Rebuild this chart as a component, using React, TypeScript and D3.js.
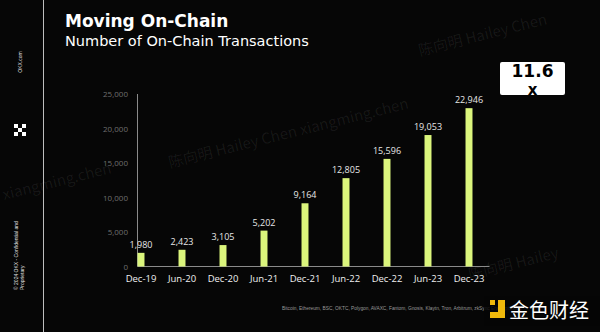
import React from "react";
import * as d3 from "d3";

const categories = ["Dec-19", "Jun-20", "Dec-20", "Jun-21", "Dec-21", "Jun-22", "Dec-22", "Jun-23", "Dec-23"];
const transactions = [1980, 2423, 3105, 5202, 9164, 12805, 15596, 19053, 22946];
const yTicks = [0, 5000, 10000, 15000, 20000, 25000];
const title = "Moving On-Chain";
const subtitle = "Number of On-Chain Transactions";
const multiple = "11.6";
const sourceNote = "Bitcoin, Ethereum, BSC, OKTC, Polygon, AVAXC, Fantom, Gnosis, Klaytn, Tron, Arbitrum, zkSync Era, Optimism";
const watermarks = [
  { text: "陈向明 Hailey  Chen", x: 420, y: 56 },
  { text: "陈向明 Hailey  Chen xiangming.chen", x: 170, y: 168 },
  { text: "xiangming.chen", x: 4, y: 200 },
  { text: "陈向明 Hailey", x: 470, y: 280 },
];

const W = 600;
const H = 332;
const BAR = "#dbf57c";

export default function App() {
  const x = d3.scalePoint<string>().domain(categories).range([120.5, 489.5]).padding(0.5);
  const y = d3.scaleLinear().domain([0, 25000]).range([266.5, 94]);
  const bw = x.step() * 0.17;
  const fmt = d3.format(",");
  const axisX = (x(categories[0]) as number) - bw / 2;
  const axisEnd = 489.5;

  return (
    <svg width={W} height={H} style={{ position: "absolute", left: 0, top: 0, display: "block" }}>
      <rect x={0} y={0} width={W} height={H} fill="#060606" />
      {/* watermarks */}
      {watermarks.map((w, i) => (
        <text key={i} x={w.x} y={w.y} transform={`rotate(-14 ${w.x} ${w.y})`} fontFamily="'Noto Sans CJK SC', 'DejaVu Sans', sans-serif" fontSize={15} fill="#ffffff" fillOpacity={0.07}>
          {w.text}
        </text>
      ))}
      {/* left sidebar */}
      <line x1={43.5} y1={0} x2={43.5} y2={H} stroke="#bdbdbd" strokeWidth={1} />
      <text transform="translate(22,62) rotate(-90)" textAnchor="middle" fontFamily="'Liberation Sans', Arial, sans-serif" fontSize={5} fill="#e0e0e0">OKX.com</text>
      <g fill="#ffffff">
        <rect x={14} y={124} width={4} height={4} />
        <rect x={22} y={124} width={4} height={4} />
        <rect x={18} y={128} width={4} height={4} />
        <rect x={14} y={132} width={4} height={4} />
        <rect x={22} y={132} width={4} height={4} />
      </g>
      <text transform="translate(18,290) rotate(-90)" fontFamily="'Liberation Sans', Arial, sans-serif" fontSize={5} fill="#e0e0e0">© 2024 OKX - Confidential and</text>
      <text transform="translate(24,290) rotate(-90)" fontFamily="'Liberation Sans', Arial, sans-serif" fontSize={5} fill="#e0e0e0">Proprietary</text>

      {/* titles */}
      <text x={65} y={27} fontFamily="'DejaVu Sans', sans-serif" fontWeight="bold" fontSize={17} fill="#ffffff">{title}</text>
      <text x={65} y={45.5} fontFamily="'DejaVu Sans', sans-serif" fontSize={14.5} fill="#ffffff">{subtitle}</text>

      {/* multiple box */}
      <rect x={500} y={62} width={65} height={33} rx={2} fill="#ffffff" />
      <text x={532.5} y={76.5} textAnchor="middle" fontFamily="'DejaVu Sans', sans-serif" fontWeight="bold" fontSize={17} fill="#000000">{multiple}</text>
      <text x={532.5} y={95} textAnchor="middle" fontFamily="'DejaVu Sans', sans-serif" fontWeight="bold" fontSize={15} fill="#000000">x</text>

      {/* y axis */}
      <line x1={axisX} y1={y(25000)} x2={axisX} y2={y(0)} stroke="#8a8a8a" strokeWidth={1} />
      <line x1={axisX} y1={y(0)} x2={axisEnd} y2={y(0)} stroke="#8a8a8a" strokeWidth={1} />
      {yTicks.map((t) => (
        <text key={t} x={128} y={y(t) + 3} textAnchor="end" fontFamily="'Open Sans', sans-serif" fontSize={8} fill="#6e6e6e">
          {fmt(t)}
        </text>
      ))}

      {/* bars */}
      {categories.map((c, i) => {
        const cx = x(c) as number;
        const v = transactions[i];
        return (
          <g key={c}>
            <rect x={cx - bw / 2} y={y(v)} width={bw} height={y(0) - y(v)} fill={BAR} />
            <text x={cx} y={y(v) - 5} textAnchor="middle" fontFamily="'Open Sans', sans-serif" fontSize={9} fill="#e6e6e6">
              {fmt(v)}
            </text>
            <text x={cx} y={281.5} textAnchor="middle" fontFamily="'Open Sans', sans-serif" fontSize={9.5} fill="#f0f0f0">
              {c}
            </text>
          </g>
        );
      })}

      {/* source note */}
      <text x={282} y={310} fontFamily="'Liberation Sans', Arial, sans-serif" fontSize={4.8} fill="#9a9a9a">{sourceNote}</text>

      {/* 金色财经 logo */}
      <rect x={484} y={296} width={116} height={30} fill="#060606" fillOpacity={0.85} />
      <g fill="#f0b90b">
        <rect x={498} y={300} width={7} height={18} />
        <rect x={490} y={312} width={15} height={6} />
        <rect x={490} y={300} width={5} height={5} />
      </g>
      <text x={509} y={318} fontFamily="'Noto Sans CJK SC', sans-serif" fontSize={20} fill="#ffffff">金色财经</text>
    </svg>
  );
}
